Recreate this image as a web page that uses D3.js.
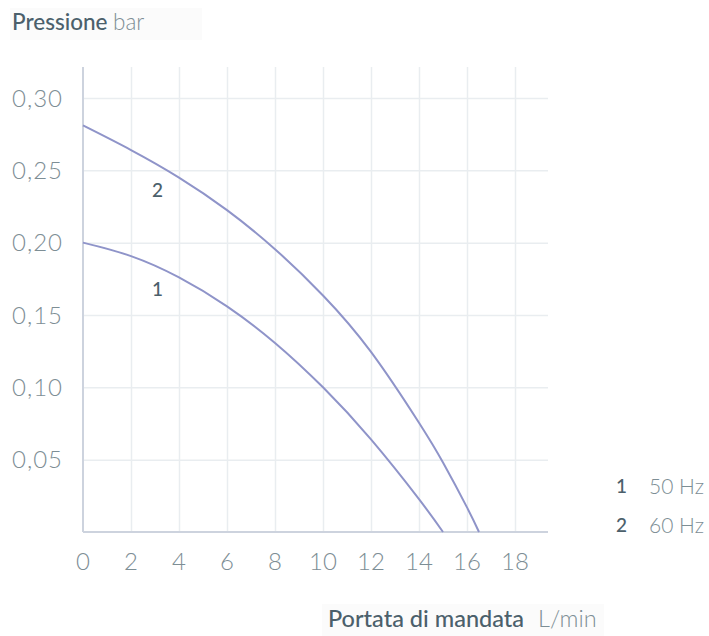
<!DOCTYPE html>
<meta charset="utf-8">
<style>
body { margin: 0; background: #fff; }
svg { display: block; font-family: Lato, "Open Sans", sans-serif; }
.grid line { stroke: #e9edf0; stroke-width: 1.5; }
.grid path { display: none; }
.tick-label { fill: #7d8e95; font-size: 24px; font-weight: 300; }
.dark { fill: #4b606b; }
.light { fill: #7d8e95; font-weight: 300; }
.curve { fill: none; stroke: #8f94c9; stroke-width: 2; }
</style>
<svg width="709" height="636"></svg>
<script src="https://d3js.org/d3.v7.min.js"></script>
<script>
// pump curves: pressure (bar) vs flow (L/min)
var flowTicks = [0, 2, 4, 6, 8, 10, 12, 14, 16, 18];
var pressureTicks = [0.05, 0.10, 0.15, 0.20, 0.25, 0.30];

var flow50 = [0, 2, 4, 6, 8, 10, 12, 14, 15];
var pressure50 = [0.200, 0.1907, 0.176, 0.156, 0.1307, 0.100, 0.064, 0.0227, 0];

var flow60 = [0, 2, 4, 6, 8, 10, 12, 14, 15, 16, 16.5];
var pressure60 = [0.281, 0.264, 0.245, 0.2225, 0.1955, 0.1635, 0.1245, 0.0755, 0.048, 0.017, 0];

var seriesNames = ["1", "2"];
var seriesLabels = ["50 Hz", "60 Hz"];

var svg = d3.select("svg");

var x = d3.scaleLinear().domain([0, 19.375]).range([83, 548]);
var y = d3.scaleLinear().domain([0, 0.3214]).range([532, 67]);

// faint boxes behind titles
svg.append("rect").attr("x", 10).attr("y", 8).attr("width", 192).attr("height", 32).attr("fill", "#fbfbfb");
svg.append("rect").attr("x", 322).attr("y", 604).attr("width", 282).attr("height", 32).attr("fill", "#fbfbfb");

// grid
svg.append("g")
    .attr("class", "grid")
    .attr("transform", "translate(0,532)")
    .call(d3.axisBottom(x).tickValues(flowTicks.slice(1)).tickSize(-(532 - 67)).tickFormat(""));

svg.append("g")
    .attr("class", "grid")
    .attr("transform", "translate(83,0)")
    .call(d3.axisLeft(y).tickValues(pressureTicks).tickSize(-(548 - 83)).tickFormat(""));

// axis lines
svg.append("line").attr("x1", x(0)).attr("x2", x(0)).attr("y1", 67).attr("y2", y(0))
    .attr("stroke", "#cdd3de").attr("stroke-width", 2);
svg.append("line").attr("x1", x(0)).attr("x2", 548).attr("y1", y(0)).attr("y2", y(0))
    .attr("stroke", "#cdd3de").attr("stroke-width", 2);

// tick labels
svg.append("g").selectAll("text")
    .data(pressureTicks)
    .enter().append("text")
        .attr("class", "tick-label")
        .attr("x", 63)
        .attr("y", function(d) { return y(d); })
        .attr("dy", "0.36em")
        .style("text-anchor", "end")
        .style("letter-spacing", "1px")
        .text(function(d) { return d.toFixed(2).replace(".", ","); });

svg.append("g").selectAll("text")
    .data(flowTicks)
    .enter().append("text")
        .attr("class", "tick-label")
        .attr("x", function(d) { return x(d); })
        .attr("y", 570)
        .style("text-anchor", "middle")
        .text(function(d) { return d; });

// curves
var line = d3.line()
    .x(function(d) { return x(d[0]); })
    .y(function(d) { return y(d[1]); })
    .curve(d3.curveNatural);

var curves = [d3.zip(flow50, pressure50), d3.zip(flow60, pressure60)];
svg.append("g").selectAll("path")
    .data(curves)
    .enter().append("path")
        .attr("class", "curve")
        .attr("d", line);

// curve numbers
var labelPos = [[3.1, 0.168], [3.1, 0.236]];
svg.append("g").selectAll("text")
    .data(labelPos)
    .enter().append("text")
        .attr("class", "dark")
        .attr("x", function(d) { return x(d[0]); })
        .attr("y", function(d) { return y(d[1]); })
        .attr("dy", "0.36em")
        .style("text-anchor", "middle")
        .style("font-size", "19px")
        .style("font-weight", 500)
        .text(function(d, i) { return seriesNames[i]; });

// legend
var legend = svg.append("g").selectAll("g")
    .data(seriesNames)
    .enter().append("g")
        .attr("transform", function(d, i) { return "translate(0," + (486 + i * 39) + ")"; });
legend.append("text")
    .attr("class", "dark")
    .attr("x", 627).attr("dy", "0.36em")
    .style("text-anchor", "end")
    .style("font-size", "19px")
    .style("font-weight", 500)
    .text(function(d) { return d; });
legend.append("text")
    .attr("class", "light")
    .attr("x", 649).attr("dy", "0.36em")
    .style("font-size", "21px")
    .text(function(d, i) { return seriesLabels[i]; });

// titles
var t1 = svg.append("text").attr("x", 12).attr("y", 30).style("font-size", "22.5px");
t1.append("tspan").attr("class", "dark").style("font-weight", 500).text("Pressione");
t1.append("tspan").attr("class", "light").attr("x", 113).text("bar");

var t2 = svg.append("text").attr("x", 328).attr("y", 627).style("font-size", "23.5px");
t2.append("tspan").attr("class", "dark").style("font-weight", 500).text("Portata di mandata");
t2.append("tspan").attr("class", "light").attr("x", 538).text("L/min");
</script>
